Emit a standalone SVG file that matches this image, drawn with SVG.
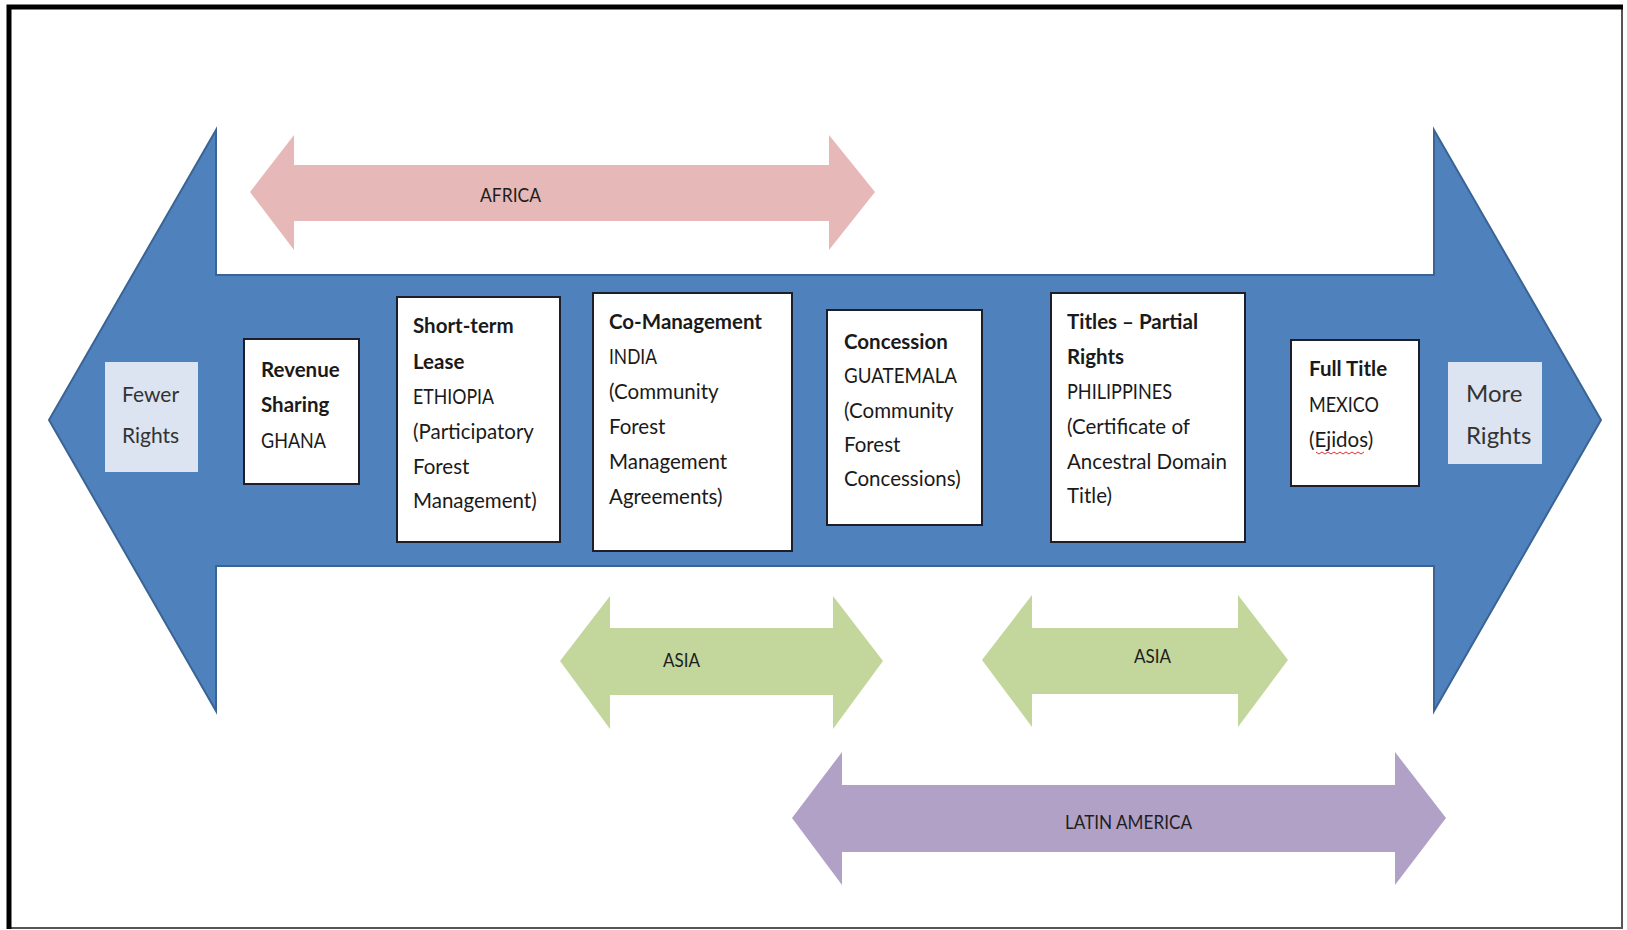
<svg xmlns="http://www.w3.org/2000/svg" width="1627" height="930" viewBox="0 0 1627 930">
<style>
.box{fill:#ffffff;stroke:#1c1f2a;stroke-width:2}
.side{fill:#dbe4f0;stroke:none}
.t{font-family:Lato,"Liberation Sans",sans-serif;font-size:20.5px;fill:#1a1a1a}
.b{font-weight:bold}
.s{font-family:Lato,"Liberation Sans",sans-serif;font-size:21px;fill:#333333}
.lab{font-family:Lato,"Liberation Sans",sans-serif;font-size:19.5px;fill:#1e1e1e}
</style>
<rect x="0" y="0" width="1627" height="930" fill="#ffffff"/>
<path d="M1622,7 V928 H8" fill="none" stroke="#555555" stroke-width="2"/>
<path d="M9,929 V7 H1623" fill="none" stroke="#000000" stroke-width="5"/>

<g id="connectors">
  <path id="main-arrow" d="M49,420 L216,130 L216,275 L1434,275 L1434,130 L1601,420 L1434,711 L1434,566 L216,566 L216,711 Z" fill="#4f81bd" stroke="#3a6494" stroke-width="2"/>
  <path id="africa-arrow" d="M250,192 L294,135 L294,165 L829,165 L829,135 L875,192 L829,250 L829,221 L294,221 L294,250 Z" fill="#e6b9b8"/>
  <path id="asia-arrow-1" d="M560,661 L610,596 L610,628 L833,628 L833,596 L883,661 L833,729 L833,695 L610,695 L610,729 Z" fill="#c3d69b"/>
  <path id="asia-arrow-2" d="M982,660 L1032,595 L1032,628 L1238,628 L1238,595 L1288,660 L1238,727 L1238,694 L1032,694 L1032,727 Z" fill="#c3d69b"/>
  <path id="latam-arrow" d="M792,818 L842,752 L842,785 L1395,785 L1395,752 L1446,818 L1395,885 L1395,852 L842,852 L842,885 Z" fill="#b2a1c7"/>
  <text class="lab" x="480" y="202" textLength="61" lengthAdjust="spacingAndGlyphs">AFRICA</text>
  <text class="lab" x="663" y="667" textLength="37" lengthAdjust="spacingAndGlyphs">ASIA</text>
  <text class="lab" x="1134" y="663" textLength="37" lengthAdjust="spacingAndGlyphs">ASIA</text>
  <text class="lab" x="1065" y="829" textLength="127" lengthAdjust="spacingAndGlyphs">LATIN AMERICA</text>
</g>

<g id="fewer-rights">
  <rect class="side" x="105" y="362" width="93" height="110"/>
  <text class="s" x="122" y="402">Fewer</text>
  <text class="s" x="122" y="443">Rights</text>
</g>

<g id="revenue-sharing">
  <rect class="box" x="244" y="339" width="115" height="145"/>
  <text class="t b" x="261" y="377">Revenue</text>
  <text class="t b" x="261" y="412">Sharing</text>
  <text class="t" x="261" y="448" textLength="65" lengthAdjust="spacingAndGlyphs">GHANA</text>
</g>

<g id="short-term-lease">
  <rect class="box" x="397" y="297" width="163" height="245"/>
  <text class="t b" x="413" y="333">Short-term</text>
  <text class="t b" x="413" y="369">Lease</text>
  <text class="t" x="413" y="404" textLength="81" lengthAdjust="spacingAndGlyphs">ETHIOPIA</text>
  <text class="t"><tspan x="413" y="439">(Participatory</tspan><tspan x="413" y="474">Forest</tspan><tspan x="413" y="508">Management)</tspan></text>
</g>

<g id="co-management">
  <rect class="box" x="593" y="293" width="199" height="258"/>
  <text class="t b" x="609" y="329">Co-Management</text>
  <text class="t" x="609" y="364" textLength="48" lengthAdjust="spacingAndGlyphs">INDIA</text>
  <text class="t"><tspan x="609" y="399">(Community</tspan><tspan x="609" y="434">Forest</tspan><tspan x="609" y="469">Management</tspan><tspan x="609" y="504">Agreements)</tspan></text>
</g>

<g id="concession">
  <rect class="box" x="827" y="310" width="155" height="215"/>
  <text class="t b" x="844" y="349">Concession</text>
  <text class="t" x="844" y="383" textLength="113" lengthAdjust="spacingAndGlyphs">GUATEMALA</text>
  <text class="t"><tspan x="844" y="418">(Community</tspan><tspan x="844" y="452">Forest</tspan><tspan x="844" y="486">Concessions)</tspan></text>
</g>

<g id="titles-partial-rights">
  <rect class="box" x="1051" y="293" width="194" height="249"/>
  <text class="t b" x="1067" y="329">Titles – Partial</text>
  <text class="t b" x="1067" y="364">Rights</text>
  <text class="t" x="1067" y="399" textLength="105" lengthAdjust="spacingAndGlyphs">PHILIPPINES</text>
  <text class="t"><tspan x="1067" y="434">(Certificate of</tspan><tspan x="1067" y="469">Ancestral Domain</tspan><tspan x="1067" y="503">Title)</tspan></text>
</g>

<g id="full-title">
  <rect class="box" x="1291" y="340" width="128" height="146"/>
  <text class="t b" x="1309" y="376">Full Title</text>
  <text class="t" x="1309" y="412" textLength="70" lengthAdjust="spacingAndGlyphs">MEXICO</text>
  <text class="t" x="1309" y="447">(Ejidos)</text>
  <path d="M1316,452 l3,2 l3,-2 l3,2 l3,-2 l3,2 l3,-2 l3,2 l3,-2 l3,2 l3,-2 l3,2 l3,-2 l3,2 l3,-2 l3,2 l3,-2" fill="none" stroke="#e03030" stroke-width="1"/>
</g>

<g id="more-rights">
  <rect class="side" x="1448" y="362" width="94" height="102"/>
  <text class="s" x="1466" y="402" style="font-size:24px">More</text>
  <text class="s" x="1466" y="444" style="font-size:24px">Rights</text>
</g>
</svg>
